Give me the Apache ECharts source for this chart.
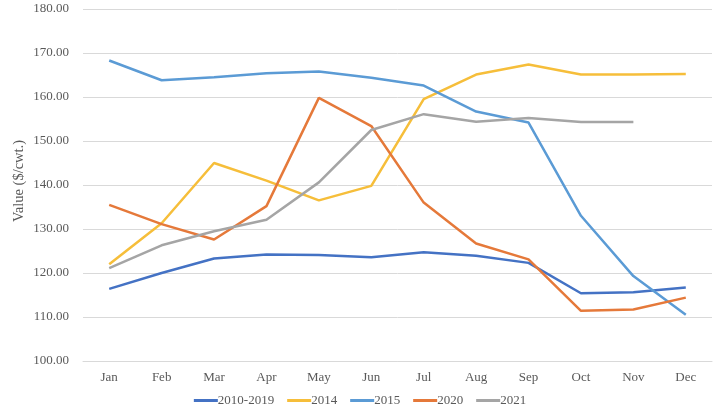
<!DOCTYPE html>
<html><head><meta charset="utf-8">
<script src="https://cdn.jsdelivr.net/npm/echarts@6/dist/echarts.min.js"></script>
<style>html,body{margin:0;padding:0;background:#fff}#c{width:720px;height:415px}</style>
</head><body><div id="c"></div>
<script>
var months = ['Jan','Feb','Mar','Apr','May','Jun','Jul','Aug','Sep','Oct','Nov','Dec'];
var s2010_2019 = [116.4,120.0,123.3,124.2,124.1,123.6,124.7,123.9,122.3,115.4,115.6,116.7];
var s2014 = [122.0,131.3,145.0,141.0,136.5,139.8,159.5,165.1,167.4,165.1,165.1,165.2];
var s2015 = [168.3,163.8,164.5,165.4,165.8,164.4,162.6,156.7,154.2,133.0,119.3,110.5];
var s2020 = [135.5,131.1,127.6,135.2,159.8,153.4,136.0,126.7,123.1,111.4,111.7,114.4];
var s2021 = [121.1,126.3,129.5,132.1,140.6,152.5,156.1,154.4,155.2,154.3,154.3];
var seriesNames = ['2010-2019','2014','2015','2020','2021'];
var colors = ['#4472C4','#F6BE3A','#5B9BD5','#E5793A','#A5A5A5'];
var dataSets = [s2010_2019,s2014,s2015,s2020,s2021];
var font = '"Liberation Serif","Times New Roman",serif';
var chart = echarts.init(document.getElementById('c'));
chart.setOption({
  animation:false,
  color: colors,
  textStyle:{fontFamily:font},
  grid:{left:83,right:8,top:9,bottom:54},
  legend:{top:389,left:'center',itemWidth:24,itemHeight:3,itemGap:13,icon:'rect',
    textStyle:{fontFamily:font,fontSize:13,color:'#595959',padding:[0,0,0,-5]},data:seriesNames},
  xAxis:{type:'category',data:months,boundaryGap:true,
    axisLine:{show:true,lineStyle:{color:'#D9D9D9'}},axisTick:{show:false},
    axisLabel:{fontFamily:font,fontSize:13,color:'#595959',margin:10}},
  yAxis:{type:'value',min:100,max:180,interval:10,
    name:'Value ($/cwt.)',nameLocation:'middle',nameGap:56,nameRotate:90,nameMoveOverlap:false,
    nameTextStyle:{fontFamily:font,fontSize:14.5,color:'#595959',padding:[0,0,0,8]},
    axisLabel:{fontFamily:font,fontSize:13,color:'#595959',margin:14,formatter:function(v){return v.toFixed(2);}},
    axisLine:{show:false},axisTick:{show:false},
    splitLine:{lineStyle:{color:'#D9D9D9',width:1}}},
  series: seriesNames.map(function(n,i){return {name:n,type:'line',data:dataSets[i],symbol:'none',
    lineStyle:{width:2.5,color:colors[i]},itemStyle:{color:colors[i]}};})
});
</script></body></html>
